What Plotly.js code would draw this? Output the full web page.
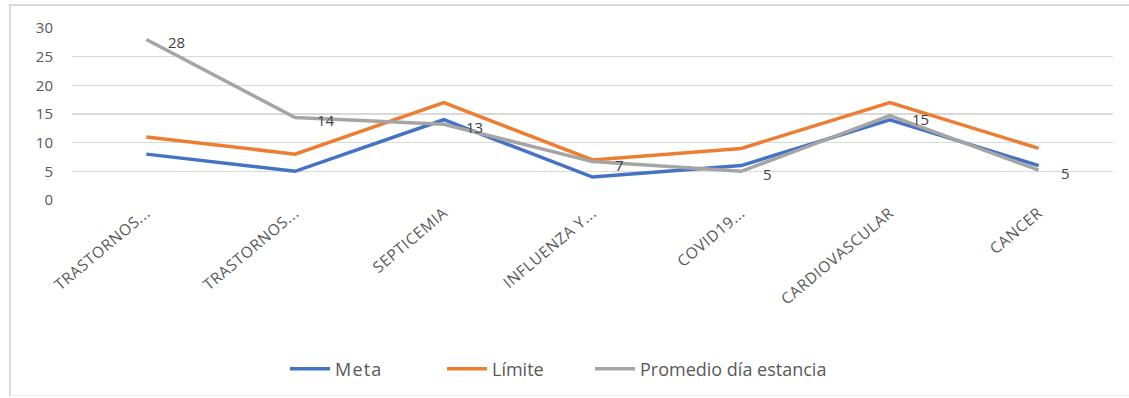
<!DOCTYPE html>
<html>
<head>
<meta charset="utf-8">
<script src="https://cdn.plot.ly/plotly-3.0.1.min.js"></script>
<style>
  html, body { margin: 0; padding: 0; background: #ffffff; }
  #wrap { position: relative; width: 1129px; height: 398px; overflow: hidden; }
  #chart { position: absolute; left: 0; top: 0; width: 1129px; height: 398px; }
  #frame { position: absolute; left: 9px; top: 4px; width: 1125px; height: 389px;
           border-top: 2px solid #d9d9d9; border-left: 2px solid #d9d9d9; border-bottom: 1px solid #eeeeee;
           pointer-events: none; }
  .legendtext { letter-spacing: 1.2px; }
  .xtick text { letter-spacing: 0.6px; }
</style>
</head>
<body>
<div id="wrap">
  <div id="chart"></div>
  <div id="frame"></div>
</div>
<script>
const categories = ["TRASTORNOS...", "TRASTORNOS...", "SEPTICEMIA", "INFLUENZA Y...", "COVID19...", "CARDIOVASCULAR", "CANCER"];
const meta = [8, 5, 14, 4, 6, 14, 6];
const limite = [11, 8, 17, 7, 9, 17, 9];
const promedio = [28, 14.4, 13.2, 6.7, 5, 14.7, 5.2];
const seriesNames = ["Meta", "Límite", "Promedio día estancia"];
const yTicks = [0, 5, 10, 15, 20, 25, 30];

const xIdx = categories.map((c, i) => i);

function line(y, name, color, legendId) {
  return {
    type: "scatter", mode: "lines", x: xIdx, y: y, name: name, legend: legendId,
    line: { color: color, width: 3.5 }, hoverinfo: "skip"
  };
}

const data = [
  line(meta, seriesNames[0], "#4472C4", "legend"),
  line(limite, seriesNames[1], "#ED7D31", "legend2"),
  line(promedio, seriesNames[2], "#A5A5A5", "legend3")
];

const annotations = promedio.map((v, i) => ({
  x: i, y: v, xref: "x", yref: "y",
  text: String(Math.round(v)), showarrow: false,
  xanchor: "left", yanchor: "middle", xshift: 20, yshift: -3,
  font: { family: "Open Sans, sans-serif", size: 15, color: "#404040" }
}));

function legendAt(px) {
  return {
    orientation: "h", xref: "container", yref: "container",
    x: px / 1129, xanchor: "left", y: 0.073, yanchor: "middle",
    font: { family: "Open Sans, sans-serif", size: 18, color: "#595959" },
    itemwidth: 40, bgcolor: "rgba(0,0,0,0)"
  };
}

const layout = {
  width: 1129, height: 398,
  margin: { l: 72, r: 16, t: 28, b: 198 },
  paper_bgcolor: "#ffffff", plot_bgcolor: "#ffffff",
  showlegend: true,
  legend: legendAt(285),
  legend2: legendAt(442),
  legend3: legendAt(590),
  xaxis: {
    tickmode: "array", tickvals: xIdx, ticktext: categories,
    range: [-0.5, categories.length - 0.5],
    tickangle: -40, showgrid: false, zeroline: false, showline: false, ticks: "",
    tickfont: { family: "Open Sans, sans-serif", size: 15.5, color: "#595959" }
  },
  yaxis: {
    range: [0, 30], tickmode: "array", tickvals: yTicks,
    showgrid: true, gridcolor: "#d9d9d9", gridwidth: 1.5,
    zeroline: false, showline: false, ticks: "",
    ticklabelstandoff: 18,
    tickfont: { family: "Open Sans, sans-serif", size: 15, color: "#595959" }
  },
  annotations: annotations
};

Plotly.newPlot("chart", data, layout, { displayModeBar: false, staticPlot: true });
</script>
</body>
</html>
